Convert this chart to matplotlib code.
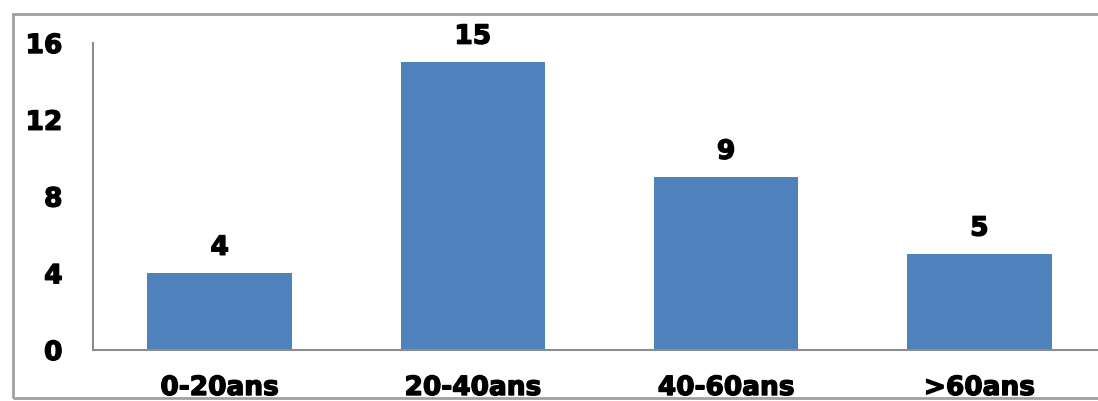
import matplotlib.pyplot as plt
import matplotlib.patheffects as pe
from matplotlib.patches import Rectangle

categories = ['0-20ans', '20-40ans', '40-60ans', '>60ans']
counts = [4, 15, 9, 5]
yticks = [0, 4, 8, 12, 16]

plt.rcParams['font.family'] = 'DejaVu Sans'
plt.rcParams['font.weight'] = 'bold'

# slightly heavier text, the original uses a very thick font
thick = [pe.withStroke(linewidth=1.0, foreground='black')]

fig = plt.figure(figsize=(10.98, 4.01), dpi=100)
# grey frame around the chart (right side is cut off in the original)
fig.patches.append(Rectangle((13/1098, 3/401), 1.2, 384/401, transform=fig.transFigure,
                             fill=False, edgecolor='#a0a0a0', linewidth=2))

ax = fig.add_axes([93/1098, 51/401, 1013/1098, 307/401])
x = range(len(categories))
bars = ax.bar(x, counts, width=0.57, color='#4F81BD')

for b, v in zip(bars, counts):
    ax.annotate(str(v), (b.get_x() + b.get_width()/2, v), xytext=(0, 9),
                textcoords='offset points', ha='center', va='bottom',
                fontsize=19, fontweight='bold', path_effects=thick)

ax.set_xlim(-0.5, len(categories) - 0.5)
ax.set_ylim(0, 16)
ax.set_yticks(yticks)
ax.set_xticks(list(x))
ax.set_xticklabels(categories)
ax.tick_params(axis='y', length=0, pad=22, labelsize=19)
ax.tick_params(axis='x', length=0, pad=18, labelsize=19)
for lab in ax.get_xticklabels() + ax.get_yticklabels():
    lab.set_fontweight('bold')
    lab.set_path_effects(thick)

ax.spines['top'].set_visible(False)
ax.spines['right'].set_visible(False)
ax.spines['left'].set_color('#8c8c8c')
ax.spines['bottom'].set_color('#8c8c8c')
ax.spines['left'].set_linewidth(1.5)
ax.spines['bottom'].set_linewidth(1.5)

fig.savefig('out.png', dpi=100)
